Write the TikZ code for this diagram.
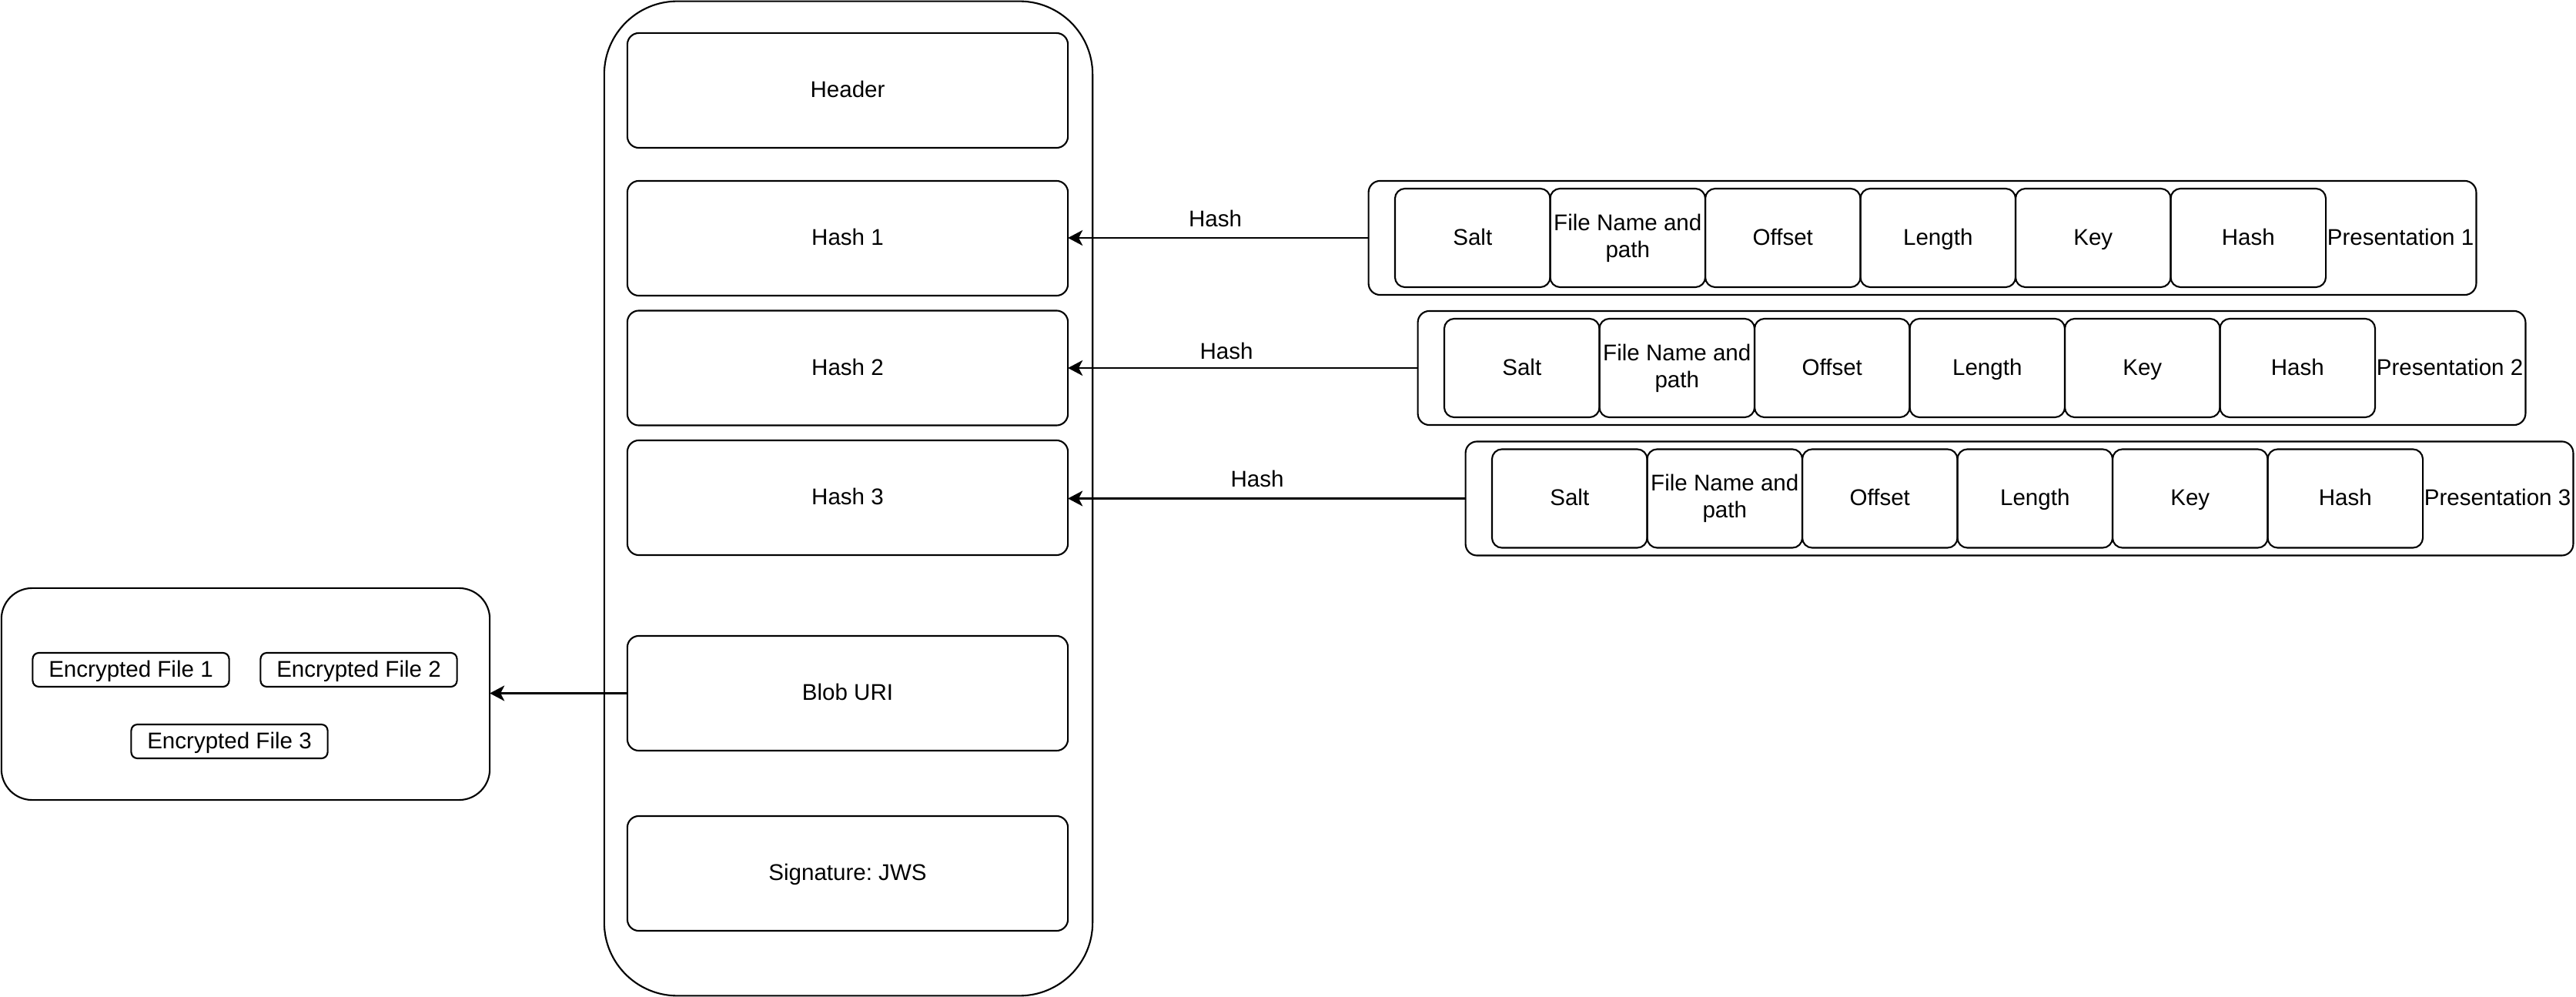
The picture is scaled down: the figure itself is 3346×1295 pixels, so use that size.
\documentclass[tikz,border=0pt]{standalone}
\usepackage{fontspec}
\setmainfont{Liberation Sans}
\usetikzlibrary{arrows.meta,calc}
\frenchspacing
\begin{document}
\begin{tikzpicture}[x=0.01cm,y=-0.01cm,
  every node/.style={font=\fontsize{8.4pt}{10pt}\selectfont},
  base/.style={draw=black, line width=0.6pt, inner sep=0pt, outer sep=0pt},
  oneline/.style={text height=0.72em, text depth=0.2em},
  mainbox/.style={base, oneline, rounded corners=0.15cm, minimum width=5.72cm, minimum height=1.49cm},
  presbox/.style={base, rounded corners=0.15cm, minimum width=14.38cm, minimum height=1.48cm},
  cellbase/.style={base, rounded corners=0.13cm, minimum width=2.015cm, minimum height=1.28cm, align=center},
  cellbox/.style={cellbase, oneline},
  filebox/.style={base, oneline, rounded corners=0.08cm, minimum width=2.55cm, minimum height=0.44cm},
  arr/.style={line width=0.6pt, -{Stealth[length=0.19cm, width=0.2cm, inset=0.05cm]}},
  lbl/.style={draw=none, fill=none, inner sep=0pt, oneline}
]
\useasboundingbox (0,0) rectangle (3346,1295);

% container
\node[base, rounded corners=0.95cm, minimum width=6.34cm, minimum height=12.91cm] (cont) at (1102,647.5) {};
\node[mainbox] (header) at (1101,117.5) {Header};
\node[mainbox] (h1) at (1101,309.5) {Hash 1};
\node[mainbox] (h2) at (1101,478) {Hash 2};
\node[mainbox] (h3) at (1101,646.5) {Hash 3};
\node[mainbox] (blob) at (1101,900.5) {Blob URI};
\node[mainbox] (sig) at (1101,1134.5) {Signature: JWS};

% encrypted storage
\node[base, rounded corners=0.4cm, minimum width=6.34cm, minimum height=2.75cm] (enc) at (319,901.5) {};
\node[filebox] (f1) at (170,870) {Encrypted File 1};
\node[filebox] (f2) at (466,870) {Encrypted File 2};
\node[filebox] (f3) at (298,963) {Encrypted File 3};

% presentations
\foreach \n/\L/\Y in {1/1778/309, 2/1842/478, 3/1904/647.5}{
  \node[presbox] (p\n) at (\L+719,\Y) {};
  \node[cellbox] (p\n salt) at (\L+34+100.75,\Y) {Salt};
  \node[cellbase] (p\n file) at (\L+34+302.25,\Y) {File Name and\\path};
  \node[cellbox] (p\n off) at (\L+34+503.75,\Y) {Offset};
  \node[cellbox] (p\n len) at (\L+34+705.25,\Y) {Length};
  \node[cellbox] (p\n key) at (\L+34+906.75,\Y) {Key};
  \node[cellbox] (p\n hash) at (\L+34+1108.25,\Y) {Hash};
  \node[lbl] (p\n lab) at (\L+1340,\Y) {Presentation \n};
}

% connectors
\draw[arr] (p1.west) -- (p1.west -| h1.east) node[lbl, pos=0.51, yshift=0.24cm] (l1) {Hash};
\draw[arr] (p2.west) -- (p2.west -| h2.east) node[lbl, pos=0.547, yshift=0.21cm] (l2) {Hash};
\draw[arr] (p3.west) -- (p3.west -| h3.east) node[lbl, pos=0.524, yshift=0.24cm] (l3) {Hash};
\draw[arr] (blob.west) -- (blob.west -| enc.east);
\end{tikzpicture}
\end{document}
